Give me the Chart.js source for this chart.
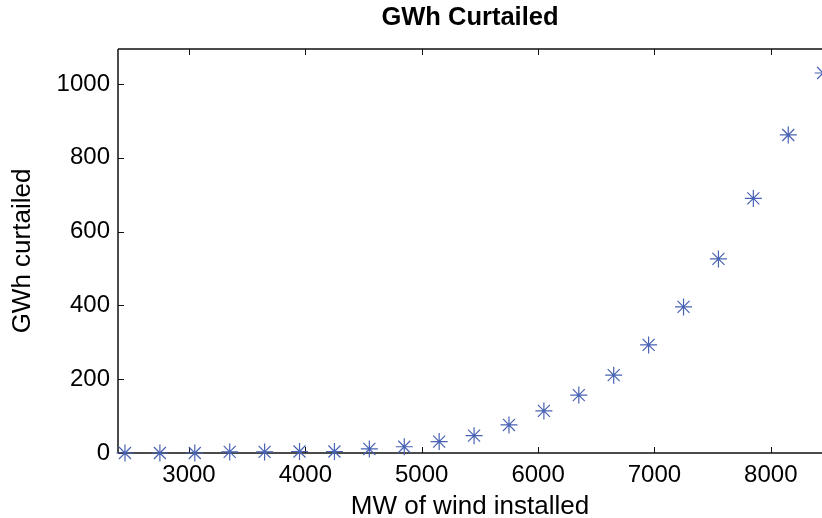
<!DOCTYPE html>
<html>
<head>
<meta charset="utf-8">
<script src="https://cdn.jsdelivr.net/npm/chart.js@4.4.1/dist/chart.umd.min.js"></script>
<style>
  body { margin: 0; background: #fff; }
  #wrap { width: 822px; height: 518px; }
</style>
</head>
<body>
<div id="wrap"><canvas id="chart" width="822" height="518"></canvas></div>
<script>
const windMW = [2450, 2750, 3050, 3350, 3650, 3950, 4250, 4550, 4850, 5150, 5450,
                5750, 6050, 6350, 6650, 6950, 7250, 7550, 7850, 8150, 8450]
const gwhCurtailed = [0, 0, 0, 3, 3, 4, 4, 11, 17, 31, 47,
                      76, 114, 157, 211, 293, 396, 526, 690, 862, 1030]
const xTicks = [3000, 4000, 5000, 6000, 7000, 8000]
const yTicks = [0, 200, 400, 600, 800, 1000]

const FONT = "'Liberation Sans', Arial, sans-serif"

// MATLAB style box with inward tick marks
const matlabBox = {
  id: "matlabBox",
  beforeDatasetsDraw(chart) {
    const { ctx, chartArea: a, scales: { x, y } } = chart
    const len = 6
    ctx.save()
    ctx.strokeStyle = "#111"
    ctx.lineWidth = 1.5
    ctx.beginPath()
    ctx.moveTo(a.left, a.top); ctx.lineTo(a.right + 2, a.top)
    ctx.moveTo(a.left, a.top); ctx.lineTo(a.left, a.bottom)
    ctx.moveTo(a.left, a.bottom); ctx.lineTo(a.right + 2, a.bottom)
    ctx.stroke()
    ctx.lineWidth = 1
    ctx.beginPath()
    xTicks.forEach(v => {
      const px = Math.round(x.getPixelForValue(v)) + 0.5
      ctx.moveTo(px, a.bottom); ctx.lineTo(px, a.bottom - len)
      ctx.moveTo(px, a.top); ctx.lineTo(px, a.top + len)
    })
    yTicks.forEach(v => {
      const py = Math.round(y.getPixelForValue(v)) + 0.5
      ctx.moveTo(a.left, py); ctx.lineTo(a.left + len, py)
    })
    ctx.stroke()
    ctx.restore()
  }
}

new Chart(document.getElementById("chart"), {
  type: "scatter",
  data: {
    datasets: [{
      data: windMW.map((w, i) => ({ x: w, y: gwhCurtailed[i] })),
      pointStyle: "star",
      pointRadius: 8.5,
      pointHoverRadius: 8.5,
      borderColor: "#4862b4",
      backgroundColor: "#4862b4",
      pointBorderWidth: 1.2,
      clip: false
    }]
  },
  options: {
    responsive: false,
    animation: false,
    layout: { padding: 0, autoPadding: false },
    plugins: {
      legend: { display: false },
      tooltip: { enabled: false }
    },
    scales: {
      // top axis only carries the title so it centres over the plot
      top: {
        type: "linear",
        position: "top",
        min: 2390,
        max: 8440,
        afterFit: s => { s.height = 49; s.paddingLeft = 0; s.paddingRight = 0 },
        grid: { display: false, drawTicks: false },
        border: { display: false },
        ticks: { display: false },
        title: {
          display: true,
          text: "GWh Curtailed",
          color: "#000",
          font: { family: FONT, size: 25.5, weight: "bold" },
          padding: { top: 3, bottom: 0 }
        }
      },
      x: {
        type: "linear",
        min: 2390,
        max: 8440,
        afterBuildTicks: s => { s.ticks = xTicks.map(v => ({ value: v })) },
        afterFit: s => { s.height = 65; s.paddingLeft = 0; s.paddingRight = 0 },
        grid: { display: false, drawTicks: false },
        border: { display: false },
        ticks: {
          color: "#000",
          padding: 8,
          font: { family: FONT, size: 24 },
          callback: v => String(v)
        },
        title: {
          display: true,
          text: "MW of wind installed",
          color: "#000",
          font: { family: FONT, size: 26, lineHeight: 0.8 },
          padding: { top: 0, bottom: 1 }
        }
      },
      y: {
        type: "linear",
        min: 0,
        max: 1095,
        afterBuildTicks: s => { s.ticks = yTicks.map(v => ({ value: v })) },
        afterFit: s => { s.width = 118 },
        grid: { display: false, drawTicks: false },
        border: { display: false },
        ticks: {
          color: "#000",
          padding: 8,
          font: { family: FONT, size: 24 },
          callback: v => String(v)
        },
        title: {
          display: true,
          text: "GWh curtailed",
          color: "#000",
          font: { family: FONT, size: 26 },
          padding: { top: 7, bottom: 0 }
        }
      }
    }
  },
  plugins: [matlabBox]
})
</script>
</body>
</html>
